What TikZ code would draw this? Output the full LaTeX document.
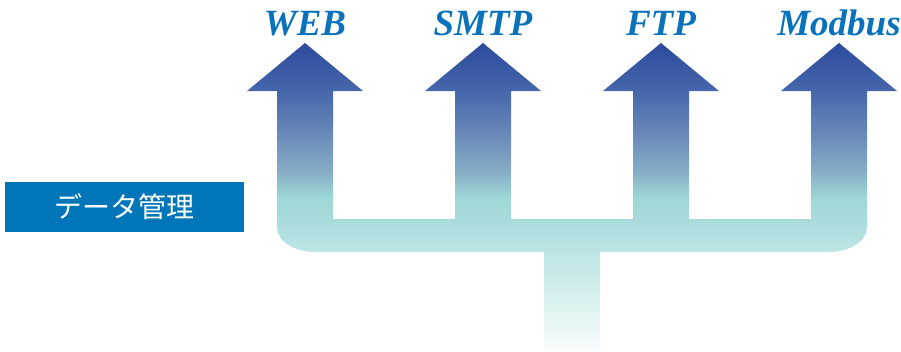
\documentclass[tikz,border=0pt]{standalone}
\usepackage{fontspec}
\setmainfont{Liberation Serif}
\newfontfamily\cjk{Noto Sans CJK JP}
\usepackage{tikz}
\usetikzlibrary{positioning}

\definecolor{lblblue}{HTML}{0A72BA}
\definecolor{boxblue}{HTML}{0075B8}
\definecolor{flowa}{HTML}{2C4A9C}
\definecolor{flowb}{HTML}{4668AC}
\definecolor{flowc}{HTML}{6585B8}
\definecolor{flowd}{HTML}{87AEC6}
\definecolor{flowe}{HTML}{9DD7D6}
\definecolor{flowf}{HTML}{ABDCDC}
\definecolor{flowg}{HTML}{BDE5E5}
\definecolor{flowh}{HTML}{F8FCFC}
\pgfdeclareverticalshading{flowshade}{100bp}{
    color(0bp)=(flowh); color(25bp)=(flowh); color(41bp)=(flowg);
    color(46bp)=(flowf); color(50bp)=(flowe); color(54bp)=(flowd);
    color(61bp)=(flowc); color(67bp)=(flowb); color(75bp)=(flowa);
    color(100bp)=(flowa)}

\begin{document}
\begin{tikzpicture}[
            x=1pt,y=-1pt,
            proto/.style={text=lblblue,anchor=base,inner sep=0pt,
                font=\fontsize{37pt}{40pt}\selectfont\bfseries\itshape}
        ]
            \useasboundingbox (0,0) rectangle (901,351);

            % branching arrows
            \shade [shading=flowshade]
                (544,351) -- (544,252) -- (315,252)
                .. controls (294,252) and (277,241) .. (277,227)
                -- (277,91) -- (247,91) -- (305,43) -- (363,91) -- (333,91) -- (333,219)
                -- (455,219) -- (455,91) -- (425,91) -- (483,43) -- (541,91) -- (511,91) -- (511,219)
                -- (633,219) -- (633,91) -- (603,91) -- (661,43) -- (719,91) -- (689,91) -- (689,219)
                -- (811,219) -- (811,91) -- (781,91) -- (839,43) -- (897,91) -- (867,91)
                -- (867,227) .. controls (867,241) and (850,252) .. (829,252)
                -- (600,252) -- (600,351) -- cycle;

            \node (web)    [proto] at (305,35) {WEB};
            \node (smtp)   [proto] at (483,35) {SMTP};
            \node (ftp)    [proto] at (661,35) {FTP};
            \node (modbus) [proto] at (839,35) {Modbus};

            \node (data) [fill=boxblue,text=white,minimum width=239pt,minimum height=50pt,
                font=\cjk\fontsize{28pt}{30pt}\selectfont] at (124.5,207) {データ管理};
        \end{tikzpicture}
\end{document}
